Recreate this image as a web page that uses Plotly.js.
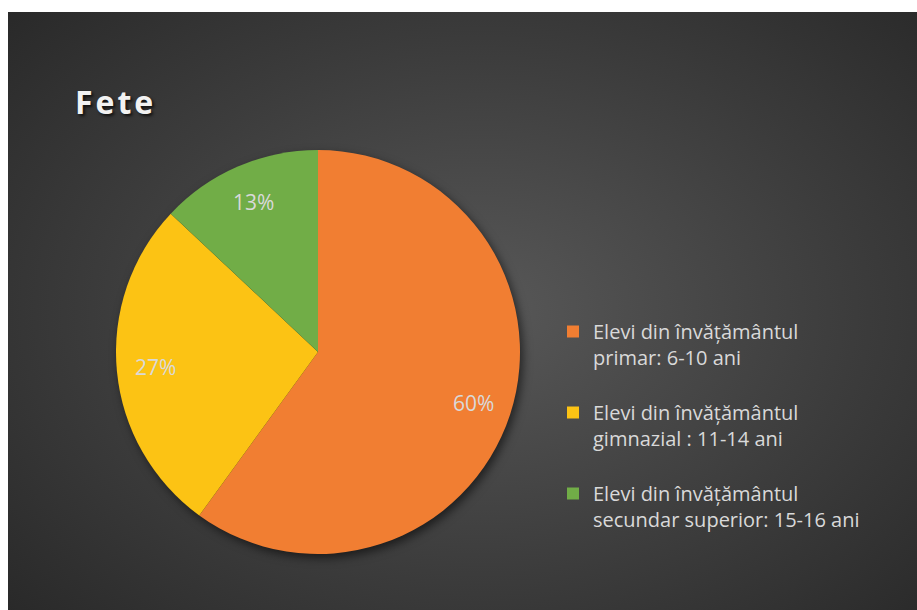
<!DOCTYPE html>
<html>
<head>
<meta charset="utf-8">
<script src="https://cdn.plot.ly/plotly-3.0.1.min.js"></script>
<style>
  html, body { margin: 0; padding: 0; background: #ffffff; width: 917px; height: 610px; overflow: hidden; }
  #chart {
    position: absolute; left: 8px; top: 12px; width: 909px; height: 598px;
    background: radial-gradient(ellipse 75% 80% at 52% 50%, #585858 0%, #3c3c3c 55%, #262626 100%);
  }
  #chart .pielayer { filter: drop-shadow(3px 4px 5px rgba(0,0,0,0.55)); }
  #chart .gtitle { letter-spacing: 3px; }
</style>
</head>
<body>
<div id="chart"></div>
<script>
const titleText = "Fete";
const categories = [
  "Elevi din învățământul<br>primar: 6-10 ani<br> ",
  "Elevi din învățământul<br>gimnazial : 11-14 ani<br> ",
  "Elevi din învățământul<br>secundar superior: 15-16 ani<br> "
];
const values = [60, 27, 13];
const colors = ["#F17E32", "#FCC314", "#71AD47"];

const W = 909, H = 598;
// pie geometry (pixels inside the plot div)
const CX = 310, CY = 340, R = 202;
const LABEL_R = 0.81; // fraction of radius where Excel-style labels sit

const total = values.reduce((a, b) => a + b, 0);
const annotations = [];
let cum = 0;
values.forEach((v) => {
  const mid = (cum + v / 2) / total * 2 * Math.PI; // clockwise from 12 o'clock
  cum += v;
  const px = CX + LABEL_R * R * Math.sin(mid);
  const py = CY - LABEL_R * R * Math.cos(mid);
  annotations.push({
    x: px / W, y: 1 - py / H, xref: "paper", yref: "paper",
    text: Math.round(v / total * 100) + "%",
    showarrow: false, xanchor: "center", yanchor: "middle",
    font: { family: "'Open Sans', sans-serif", size: 21, color: "#D9D9D9" }
  });
});

const trace = {
  type: "pie",
  labels: categories,
  values: values,
  sort: false,
  direction: "clockwise",
  rotation: 0,
  marker: { colors: colors, line: { width: 0 } },
  textinfo: "none",
  hoverinfo: "none",
  domain: { x: [(CX - R) / W, (CX + R) / W], y: [(H - CY - R) / H, (H - CY + R) / H] }
};

const layout = {
  width: W, height: H,
  margin: { l: 0, r: 0, t: 0, b: 0 },
  paper_bgcolor: "rgba(0,0,0,0)",
  plot_bgcolor: "rgba(0,0,0,0)",
  title: {
    text: "<b>" + titleText + "</b>",
    x: 67 / W, xanchor: "left", xref: "paper",
    y: 1 - 91 / H, yanchor: "middle", yref: "paper",
    font: { family: "'Open Sans', sans-serif", size: 32, color: "#F2F2F2", shadow: "2px 2px 3px rgba(0,0,0,0.7)" }
  },
  annotations: annotations,
  showlegend: true,
  legend: {
    x: 545 / W, xanchor: "left",
    y: 1 - 300 / H, yanchor: "top",
    valign: "top",
    bgcolor: "rgba(0,0,0,0)",
    font: { family: "'Open Sans', sans-serif", size: 20, color: "#D9D9D9" }
  }
};

Plotly.newPlot("chart", [trace], layout, { displayModeBar: false, staticPlot: true });
</script>
</body>
</html>
